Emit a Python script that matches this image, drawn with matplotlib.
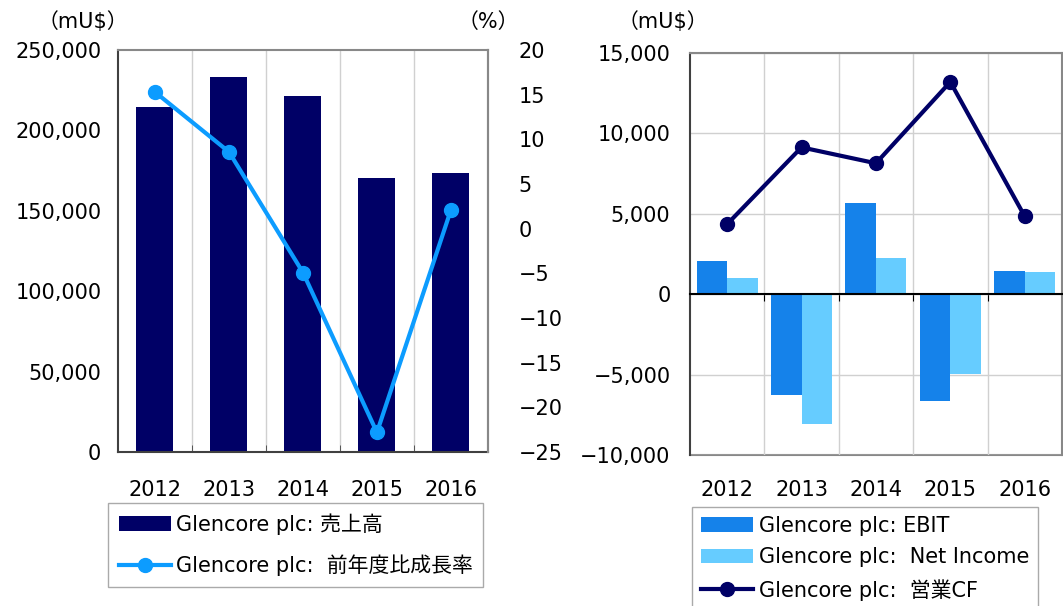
import numpy as np
import matplotlib.pyplot as plt
from matplotlib.ticker import FuncFormatter, MultipleLocator

plt.rcParams['font.family'] = ['DejaVu Sans', 'Noto Sans CJK JP']

years = ['2012', '2013', '2014', '2015', '2016']
sales = [214500, 233200, 221400, 170400, 173500]
growth = [15.3, 8.6, -4.9, -22.8, 2.1]
ebit = [2050, -6280, 5690, -6620, 1440]
net_income = [990, -8050, 2270, -4940, 1380]
op_cf = [4350, 9130, 8140, 13200, 4840]

NAVY = '#000066'
LIGHT = '#0c9cff'
EBIT_C = '#1582ea'
NET_C = '#66ccff'
FRAME = '#888888'
DARK = '#404040'
GRID = '#d0d0d0'

x = np.arange(len(years))
bounds = x[:-1] + 0.5


def thousands(v, pos):
    s = f'{abs(v):,.0f}'
    return ('\u2212' + s) if v < 0 else s


def plain(v, pos):
    s = f'{abs(v):.0f}'
    return ('\u2212' + s) if v < 0 else s


fig = plt.figure(figsize=(10.63, 6.06), dpi=100)

# ---- left panel: sales bars + growth line
ax1 = fig.add_axes([0.111, 0.254, 0.348, 0.6634])
bars = ax1.bar(x, sales, width=0.5, color=NAVY, zorder=2)
ax1.set_xlim(-0.5, len(years) - 0.5)
ax1.set_ylim(0, 250000)
ax1.yaxis.set_major_locator(MultipleLocator(50000))
ax1.yaxis.set_major_formatter(FuncFormatter(thousands))
ax1.set_xticks(x)
ax1.set_xticklabels(years)
ax1.set_xticks(bounds, minor=True)
ax1.tick_params(axis='x', which='major', length=0, pad=20, labelsize=15)
ax1.tick_params(axis='x', which='minor', length=5, direction='in', color=DARK)
ax1.tick_params(axis='y', length=0, pad=12, labelsize=15)
ax1.grid(axis='x', which='minor', color=GRID, lw=1, zorder=0)
for side in ['top', 'right']:
    ax1.spines[side].set_color(FRAME)
for side in ['left', 'bottom']:
    ax1.spines[side].set_color(DARK)
for sp in ax1.spines.values():
    sp.set_linewidth(1.5)

ax1r = ax1.twinx()
line1, = ax1r.plot(x, growth, color=LIGHT, lw=3, marker='o', ms=10, zorder=3)
ax1r.set_ylim(-25, 20)
ax1r.yaxis.set_major_locator(MultipleLocator(5))
ax1r.yaxis.set_major_formatter(FuncFormatter(plain))
ax1r.tick_params(axis='y', length=0, pad=22, labelsize=15)
ax1r.spines['right'].set_color(FRAME)
ax1r.spines['right'].set_linewidth(1.5)
for side in ['top', 'left', 'bottom']:
    ax1r.spines[side].set_visible(False)

fig.text(0.078, 0.964, '（mU$）', fontsize=15, ha='center', va='center')
fig.text(0.459, 0.964, '（%）', fontsize=15, ha='center', va='center')

fig.legend([bars, line1], ['Glencore plc: 売上高', 'Glencore plc:  前年度比成長率'],
           loc='upper left', bbox_to_anchor=(0.102, 0.170), fontsize=15,
           frameon=True, fancybox=False, edgecolor='#aaaaaa', framealpha=1,
           handlelength=2.5, handletextpad=0.25, borderpad=0.5,
           labelspacing=0.95, borderaxespad=0)

# ---- right panel: EBIT / net income bars + operating CF line
ax2 = fig.add_axes([0.649, 0.2492, 0.350, 0.6634])
bw = 0.41
b1 = ax2.bar(x - bw / 2, ebit, width=bw, color=EBIT_C, zorder=2)
b2 = ax2.bar(x + bw / 2, net_income, width=bw, color=NET_C, zorder=2)
line2, = ax2.plot(x, op_cf, color=NAVY, lw=3, marker='o', ms=10, zorder=3)
ax2.set_xlim(-0.5, len(years) - 0.5)
ax2.set_ylim(-10000, 15000)
ax2.yaxis.set_major_locator(MultipleLocator(5000))
ax2.yaxis.set_major_formatter(FuncFormatter(thousands))
ax2.tick_params(axis='y', length=0, pad=14, labelsize=15)
ax2.grid(axis='y', color=GRID, lw=1, zorder=0)
ax2.set_xticks(bounds)
ax2.set_xticklabels([])
ax2.tick_params(axis='x', length=5, direction='out', color='black')
ax2.grid(axis='x', color=GRID, lw=1, zorder=0)
ax2.spines['bottom'].set_position(('data', 0))
ax2.spines['bottom'].set_color('black')
ax2.spines['bottom'].set_linewidth(1.5)
ax2.spines['bottom'].set_zorder(4)
ax2.spines['left'].set_color(DARK)
for side in ['top', 'right']:
    ax2.spines[side].set_color(FRAME)
for side in ['left', 'top', 'right']:
    ax2.spines[side].set_linewidth(1.5)

sec = ax2.secondary_xaxis(0)
sec.set_xticks(x)
sec.set_xticklabels(years)
sec.tick_params(length=0, pad=18, labelsize=15)
sec.spines['bottom'].set_color(FRAME)
sec.spines['bottom'].set_linewidth(1.5)

fig.text(0.624, 0.964, '（mU$）', fontsize=15, ha='center', va='center')

fig.legend([b1, b2, line2],
           ['Glencore plc: EBIT', 'Glencore plc:  Net Income', 'Glencore plc:  営業CF'],
           loc='upper left', bbox_to_anchor=(0.651, 0.164), fontsize=15,
           frameon=True, fancybox=False, edgecolor='#aaaaaa', framealpha=1,
           handlelength=2.5, handletextpad=0.25, borderpad=0.45,
           labelspacing=0.55, borderaxespad=0)

fig.savefig('out.png', dpi=100)
